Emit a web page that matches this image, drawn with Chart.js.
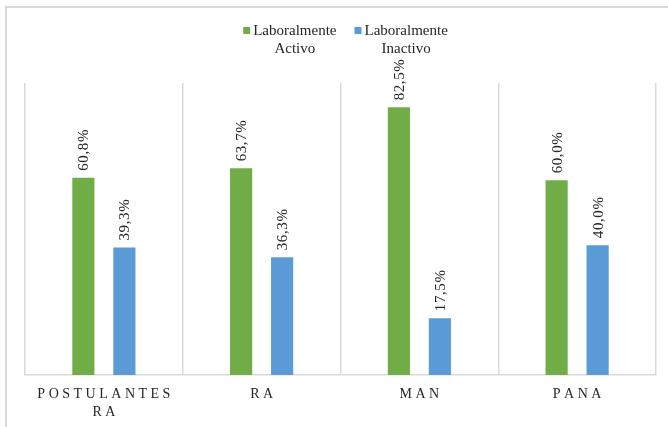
<!DOCTYPE html>
<html>
<head>
<meta charset="utf-8">
<script src="https://cdn.jsdelivr.net/npm/chart.js@4"></script>
<style>
  html, body { margin: 0; padding: 0; background: #fff; }
</style>
</head>
<body>
<canvas id="chart" width="668" height="427"></canvas>
<script>
// categories and series
const categories = [['POSTULANTES', 'RA'], 'RA', 'MAN', 'PANA'];
const activo = [60.8, 63.7, 82.5, 60.0];
const inactivo = [39.3, 36.3, 17.5, 40.0];
const seriesNames = ['Laboralmente Activo', 'Laboralmente Inactivo'];

const GREEN = '#70AD47';
const BLUE = '#5B9BD5';
const TEXT = '#262626';
const SERIF = "'Liberation Serif', 'Times New Roman', serif";

// spaced capitals like the original axis labels
const spaced = s => s.split('').join(' ');
const fmt = v => v.toFixed(1).replace('.', ',') + '%';

// outer light frame
const framePlugin = {
  id: 'frame',
  beforeDraw(chart) {
    const ctx = chart.ctx;
    ctx.save();
    ctx.strokeStyle = '#d9d9d9';
    ctx.lineWidth = 2;
    ctx.strokeRect(6, 7, chart.width + 20, chart.height + 20);
    ctx.restore();
  }
};

// rotated value labels above each bar
const valueLabels = {
  id: 'valueLabels',
  afterDatasetsDraw(chart) {
    const ctx = chart.ctx;
    ctx.save();
    ctx.font = '15px ' + SERIF;
    ctx.letterSpacing = '0.6px';
    ctx.fillStyle = TEXT;
    ctx.textAlign = 'left';
    ctx.textBaseline = 'middle';
    chart.data.datasets.forEach((ds, i) => {
      chart.getDatasetMeta(i).data.forEach((bar, j) => {
        ctx.save();
        ctx.translate(bar.x + 1, bar.y - 7);
        ctx.rotate(-Math.PI / 2);
        ctx.fillText(fmt(ds.data[j]), 0, 0);
        ctx.restore();
      });
    });
    ctx.restore();
  }
};

// two-line legend at the top
const legendPlugin = {
  id: 'twoLineLegend',
  afterDraw(chart) {
    const ctx = chart.ctx;
    ctx.save();
    ctx.font = '15px ' + SERIF;
    ctx.textBaseline = 'middle';
    const items = chart.data.datasets.map(ds => {
      const words = ds.label.split(' ');
      const w = Math.max(...words.map(t => ctx.measureText(t).width));
      return { words, w, color: ds.backgroundColor };
    });
    const box = 7, gap = 3, between = 18;
    const total = items.reduce((s, it) => s + box + gap + it.w, 0) + between * (items.length - 1);
    let x = 345.5 - total / 2;
    const y0 = 31;
    items.forEach(it => {
      ctx.fillStyle = it.color;
      ctx.fillRect(x, y0 - 4, box, box);
      const cx = x + box + gap + it.w / 2;
      ctx.fillStyle = TEXT;
      ctx.textAlign = 'center';
      it.words.forEach((t, k) => ctx.fillText(t, cx, y0 + k * 18));
      x += box + gap + it.w + between;
    });
    ctx.restore();
  }
};

new Chart('chart', {
  type: 'bar',
  data: {
    labels: categories,
    datasets: [
      {
        label: seriesNames[0],
        data: activo,
        backgroundColor: GREEN,
        categoryPercentage: 0.52,
        barPercentage: 0.54
      },
      {
        label: seriesNames[1],
        data: inactivo,
        backgroundColor: BLUE,
        categoryPercentage: 0.52,
        barPercentage: 0.54
      }
    ]
  },
  options: {
    responsive: false,
    animation: false,
    layout: { padding: { left: 25, right: 12, top: 83, bottom: 0 } },
    plugins: {
      legend: { display: false },
      tooltip: { enabled: false }
    },
    scales: {
      x: {
        grid: { color: '#d9d9d9', lineWidth: 1.5, drawTicks: false },
        border: { color: '#d9d9d9', width: 1.5 },
        afterFit(scale) { scale.height = 52; },
        ticks: {
          color: TEXT,
          padding: 10,
          font: { family: SERIF, size: 14, lineHeight: 1.3 },
          maxRotation: 0,
          callback(value) {
            const l = this.getLabelForValue(value);
            return Array.isArray(l) ? l.map(spaced) : spaced(l);
          }
        }
      },
      y: {
        display: false,
        min: 0,
        max: 90
      }
    }
  },
  plugins: [framePlugin, valueLabels, legendPlugin]
});
</script>
</body>
</html>
